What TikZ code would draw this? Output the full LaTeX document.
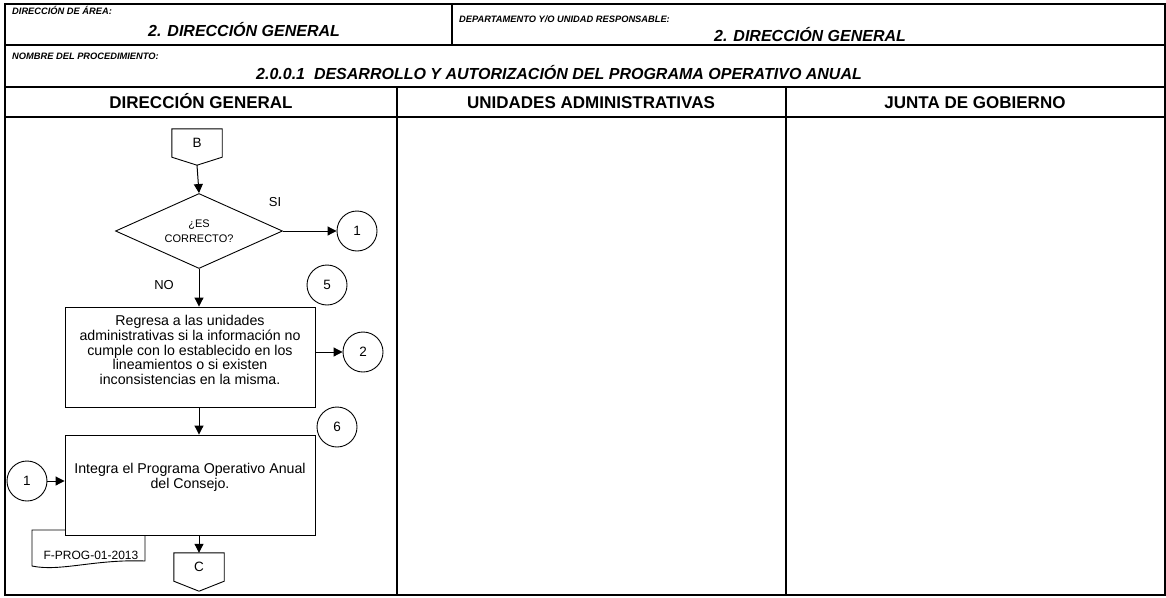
\documentclass[tikz,border=0pt]{standalone}
\usepackage{fontspec}
\setmainfont{Liberation Sans}
\usetikzlibrary{shapes.geometric,arrows.meta}
\tikzset{
  frame line/.style={draw,line width=1.2pt},
  head small/.style={inner sep=0pt,font=\fontsize{9.3}{10}\selectfont\bfseries\itshape},
  head big/.style={inner sep=0pt,font=\fontsize{16}{18}\selectfont\bfseries\itshape},
  lane head/.style={inner sep=0pt,font=\fontsize{17}{19}\selectfont\bfseries},
  task box/.style={draw,fill=white,line width=0.9pt,minimum width=250pt,minimum height=100pt},
  task text/.style={align=center,inner sep=0pt,font=\fontsize{14.2}{14.8}\selectfont},
  on page/.style={draw,circle,line width=0.9pt,minimum size=40pt,inner sep=0pt,font=\fontsize{13.5}{14}\selectfont},
  off page/.style={minimum width=50pt,minimum height=28pt,inner sep=0pt,font=\fontsize{13.5}{14}\selectfont},
  decision/.style={draw,diamond,line width=0.9pt,minimum width=167pt,minimum height=75pt,inner sep=0pt},
  decision text/.style={align=center,inner sep=0pt,font=\fontsize{11}{15}\selectfont},
  flow/.style={line width=1pt,-{Triangle[length=9pt,width=9pt]}},
  shp/.style={draw,line width=0.9pt},
}

\begin{document}
\begin{tikzpicture}[x=1pt,y=-1pt]
\useasboundingbox (0,0) rectangle (1166,597);

% marco del formato
\draw[frame line] (5,4) rectangle (1165,595);
\draw[frame line] (5,45) -- (1165,45) (5,87) -- (1165,87) (5,117) -- (1165,117);
\draw[frame line] (452,4) -- (452,45) (397,87) -- (397,595) (786,87) -- (786,595);

\node[head small,anchor=base west] (area) at (12,14) {DIRECCIÓN DE ÁREA:};
\node[head big,anchor=base west] (areaname) at (148,36) {2. DIRECCIÓN GENERAL};
\node[head small,anchor=base west] (dept) at (459,22) {DEPARTAMENTO Y/O UNIDAD RESPONSABLE:};
\node[head big,anchor=base west] (deptname) at (714,41) {2. DIRECCIÓN GENERAL};
\node[head small,anchor=base west] (procedure) at (12,59) {NOMBRE DEL PROCEDIMIENTO:};
\node[head big,anchor=base west] (procname) at (256,79) {2.0.0.1\ \ DESARROLLO Y AUTORIZACIÓN DEL PROGRAMA OPERATIVO ANUAL};

\node[lane head,anchor=base] (lanedg) at (201,108) {DIRECCIÓN GENERAL};
\node[lane head,anchor=base] (laneua) at (591,108) {UNIDADES ADMINISTRATIVAS};
\node[lane head,anchor=base] (lanejg) at (975,108) {JUNTA DE GOBIERNO};

% conector de entrada
\node[off page] (B) at (197,143) {B};
\draw[shp] (B.north west) -- (B.north east) -- (B.south east) -- ([yshift=-8pt]B.south) coordinate (Btip)
  -- (B.south west) -- cycle;

\node[decision] (check) at (199,231) {};
\node[decision text] (checktext) at (check) {¿ES\\CORRECTO?};
\draw[flow] (Btip) -- (check.north);
\node[on page] (goone) at (357,231) {1};
\draw[flow] (check.east) -- (goone.west);
\node[inner sep=0pt,font=\fontsize{13}{14}\selectfont] (yes) at (275,202) {SI};
\node[inner sep=0pt,font=\fontsize{13}{14}\selectfont] (no) at (164,285) {NO};
\node[on page] (stepfive) at (327,285) {5};

\node[task box] (back) at (190,357) {};
\node[task text] (backtext) at (190,350) {Regresa a las unidades\\administrativas si la información no\\cumple con lo establecido en los\\lineamientos o si existen\\inconsistencias en la misma.};
\draw[flow] (check.south) -- (check.south |- back.north);
\node[on page] (gotwo) at (363,352) {2};
\draw[flow] (back.east |- gotwo) -- (gotwo.west);

% formato anexo
\draw[shp,fill=white] (32,530) -- (145,530) -- (145,561) .. controls (95,559) and (60,572) .. (32,566) -- cycle;
\node[inner sep=0pt,font=\fontsize{12}{13}\selectfont] (form) at (91,555) {F-PROG-01-2013};

\node[task box] (integrate) at (190,485) {};
\node[task text] (integratetext) at (190,477) {Integra el Programa Operativo Anual\\del Consejo.};
\draw[flow] (check.south |- back.south) -- (check.south |- integrate.north);
\node[on page] (stepsix) at (337,427) {6};
\node[on page] (fromone) at (27,481) {1};
\draw[flow] (fromone.east) -- (fromone.east -| integrate.west);

% conector de salida
\node[off page] (C) at (199,567) {C};
\draw[shp] (C.north west) -- (C.north east) -- (C.south east) -- ([yshift=-10pt]C.south) -- (C.south west) -- cycle;
\draw[flow] (check.south |- integrate.south) -- (check.south |- C.north);
\end{tikzpicture}
\end{document}
